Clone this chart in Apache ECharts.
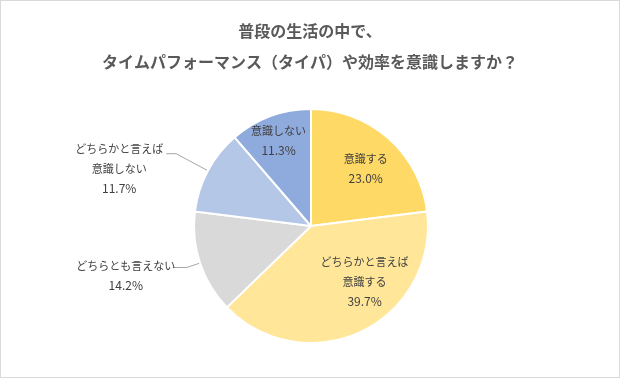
<!DOCTYPE html>
<html><head><meta charset="utf-8">
<script src="https://cdn.jsdelivr.net/npm/echarts@6/dist/echarts.min.js"></script>
<style>
html,body{margin:0;padding:0;background:#fff;}
#c{width:618px;height:376px;border:1px solid #d9d9d9;}
</style></head>
<body><div id="c"></div>
<script>
const titleLines = ['普段の生活の中で、', 'タイムパフォーマンス（タイパ）や効率を意識しますか？'];
const categories = ['意識する', 'どちらかと言えば\n意識する', 'どちらとも言えない', 'どちらかと言えば\n意識しない', '意識しない'];
const values = [23.0, 39.7, 14.2, 11.7, 11.3];
const colors = ['#FFD966', '#FFE699', '#D9D9D9', '#B4C7E7', '#8FAADC'];
const insideItems = [0, 1, 4];

const font = 'Noto Sans CJK JP';
const labelShift = {0: [14, -11], 1: [27, 0], 2: [0, 8], 3: [0, 15], 4: [-11, -28]};
const lineLen = {2: [14, 14], 3: [36, 10]};

const data = categories.map((name, i) => {
  const inside = insideItems.indexOf(i) >= 0;
  const item = {
    name: name,
    value: values[i],
    itemStyle: {color: colors[i]},
    label: inside ? {position: 'inside'} : {position: 'outside'},
    labelLine: {show: !inside}
  };
  if (lineLen[i]) { item.labelLine.length = lineLen[i][0]; item.labelLine.length2 = lineLen[i][1]; }
  return item;
});

const chart = echarts.init(document.getElementById('c'), null, {renderer: 'canvas'});
chart.setOption({
  backgroundColor: '#fff',
  animation: false,
  title: {
    text: titleLines.join('\n'),
    left: 'center',
    top: 9,
    textStyle: {fontFamily: font, fontSize: 16, fontWeight: 'bold', color: '#595959', lineHeight: 31}
  },
  series: [{
    type: 'pie',
    center: [310, 225],
    radius: 117,
    startAngle: 90,
    clockwise: true,
    itemStyle: {borderColor: '#fff', borderWidth: 2},
    labelLine: {length: 16, length2: 20, lineStyle: {color: '#a6a6a6', width: 1}},
    label: {
      formatter: p => p.name.split('\n').map(s => '{t|' + s + '}').join('\n') + '\n{n|' + p.value.toFixed(1) + '%}',
      rich: {
        t: {fontFamily: font, fontSize: 11, color: '#404040', lineHeight: 20, width: 84, align: 'center'},
        n: {fontFamily: font, fontSize: 12, color: '#404040', lineHeight: 20, width: 84, align: 'center'}
      },
      fontFamily: font, fontSize: 11, color: '#404040'
    },
    labelLayout: function (p) {
      const s = labelShift[p.dataIndex];
      if (!s) return {};
      return {dx: s[0], dy: s[1]};
    },
    data: data
  }]
});
</script></body></html>
